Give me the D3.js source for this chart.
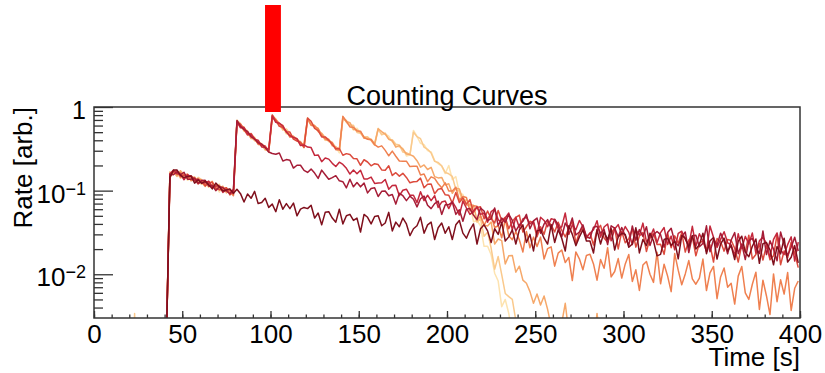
<!DOCTYPE html>
<html>
<head>
<meta charset="utf-8">
<script src="https://cdn.jsdelivr.net/npm/d3@7"></script>
<style>
  body { margin: 0; background: #fff; }
  svg { display: block; }
  text { font-family: "Liberation Sans", Arial, Helvetica, sans-serif; fill: #000; }
</style>
</head>
<body>
<svg id="chart" width="825" height="373"></svg>
<script>
// Histogram binning: 2 s bins, first bin centred at 21 s.
const binStart = 21;
const binStep = 2;

// Counting rate per bin; each row of ten values covers 20 s (21-39 s, 41-59 s, ...).
const rateSingle = [
  0,0,0,0,0,0,0,0,0,0,
  .0015,.144,.176,.177,.152,.143,.148,.150,.123,.135,
  .122,.130,.118,.105,.123,.111,.099,.102,.105,.093,
  .104,.092,.073,.091,.081,.098,.070,.072,.081,.063,
  .069,.056,.078,.060,.070,.061,.071,.050,.060,.063,
  .061,.067,.047,.054,.039,.055,.056,.047,.042,.060,
  .040,.050,.052,.044,.047,.032,.052,.048,.040,.049,
  .050,.038,.041,.055,.033,.042,.037,.047,.040,.029,
  .035,.038,.048,.031,.039,.042,.026,.036,.041,.031,
  .037,.026,.039,.044,.031,.027,.034,.040,.023,.035,
  .039,.033,.024,.035,.030,.042,.025,.028,.034,.023,
  .034,.039,.024,.030,.019,.033,.034,.027,.023,.039,
  .024,.034,.027,.019,.038,.030,.022,.028,.034,.025,
  .025,.018,.034,.023,.032,.026,.035,.0195,.028,.031,
  .030,.021,.023,.036,.018,.026,.022,.031,.025,.0166,
  .0173,.026,.027,.022,.025,.0153,.029,.027,.021,.029,
  .020,.0226,.031,.0176,.025,.0275,.0152,.023,.027,.019,
  .022,.015,.0248,.0285,.0184,.0162,.0216,.0264,.0135,.0232,
  .024,.0195,.013,.0215,.0175,.027,.014,.016,.022,.0137
];
const rate80 = [
  0,0,0,0,0,0,0,0,0,0,
  .0015,.157,.155,.168,.154,.166,.137,.137,.142,.122,
  .132,.133,.113,.116,.100,.111,.109,.099,.092,.104,
  .690,.590,.536,.510,.440,.415,.374,.362,.326,.290,
  .278,.272,.282,.226,.235,.231,.186,.201,.201,.175,
  .165,.181,.162,.140,.176,.155,.137,.143,.151,.131,
  .128,.108,.137,.111,.125,.111,.123,.094,.106,.108,
  .085,.098,.099,.087,.090,.069,.093,.087,.076,.086,
  .079,.064,.080,.086,.067,.061,.070,.075,.052,.068,
  .068,.073,.052,.059,.043,.060,.061,.051,.045,.062,
  .057,.044,.046,.062,.038,.047,.042,.052,.044,.033,
  .039,.043,.052,.035,.0435,.047,.031,.040,.045,.035,
  .0455,.039,.028,.041,.035,.047,.0295,.032,.039,.028,
  .027,.0366,.0374,.031,.0343,.0227,.038,.0356,.028,.0363,
  .0288,.022,.0378,.0255,.0342,.0284,.037,.0221,.0297,.0325,
  .0298,.021,.0315,.0355,.0247,.0219,.0281,.032,.0182,.0287,
  .0293,.0213,.0234,.038,.0186,.0261,.0223,.031,.025,.0176,
  .0257,.0315,.0176,.023,.015,.0252,.0268,.0209,.0177,.033,
  .0172,.0251,.020,.0145,.032,.0225,.0168,.021,.0277,.019
];
const rate100 = [
  0,0,0,0,0,0,0,0,0,0,
  .0015,.159,.175,.159,.158,.135,.155,.146,.132,.138,
  .124,.124,.130,.109,.114,.114,.095,.102,.103,.092,
  .665,.564,.568,.478,.466,.408,.401,.333,.329,.310,
  .779,.657,.640,.594,.502,.453,.433,.418,.346,.352,
  .332,.327,.264,.267,.222,.246,.238,.212,.194,.219,
  .206,.185,.158,.176,.159,.175,.138,.138,.145,.122,
  .123,.124,.136,.104,.115,.116,.087,.101,.104,.088,
  .088,.072,.097,.076,.088,.076,.087,.063,.073,.075,
  .061,.074,.063,.051,.075,.062,.052,.057,.064,.052,
  .054,.042,.056,.060,.045,.041,.047,.054,.034,.048,
  .036,.046,.048,.040,.043,.030,.048,.044,.037,.046,
  .045,.035,.037,.054,.030,.039,.034,.044,.037,.028,
  .031,.034,.0437,.0278,.0367,.0399,.0251,.0348,.0392,.0297,
  .0372,.0317,.0226,.0342,.0293,.0409,.0244,.0275,.0348,.0238,
  .0315,.0362,.0227,.0286,.0196,.0309,.0327,.0262,.0221,.0374,
  .0216,.0305,.0249,.0187,.0377,.0277,.021,.0261,.0322,.0238,
  .0224,.0167,.0306,.0203,.0284,.023,.0311,.0179,.0251,.0278,
  .0232,.0159,.0262,.0312,.0195,.0172,.0226,.028,.0144,.0243
];
const rate120 = [
  0,0,0,0,0,0,0,0,0,0,
  .0015,.149,.166,.174,.146,.154,.142,.151,.137,.120,
  .129,.114,.125,.125,.108,.102,.105,.108,.089,.098,
  .651,.622,.538,.463,.482,.417,.368,.351,.341,.296,
  .804,.696,.588,.573,.506,.502,.413,.392,.380,.330,
  .737,.676,.554,.522,.438,.439,.402,.356,.317,.319,
  .265,.277,.270,.242,.240,.201,.234,.220,.198,.210,
  .205,.177,.175,.198,.152,.164,.149,.161,.144,.124,
  .128,.129,.141,.108,.119,.120,.092,.104,.106,.089,
  .088,.071,.095,.072,.082,.069,.078,.055,.063,.064,
  .046,.057,.046,.041,.058,.044,.048,.035,.043,.048,
  .051,.032,.037,.043,.041,.028,.037,.030,.043,.039,
  .032,.0418,.0336,.028,.0355,.0429,.0235,.0314,.0363,.0269,
  .0313,.0224,.0342,.0384,.0271,.0242,.0307,.036,.0201,.0325,
  .0238,.0265,.0347,.0211,.0287,.0315,.0187,.0271,.0309,.0227,
  .0229,.0173,.0309,.0208,.0288,.0235,.0314,.0184,.0256,.0282,
  .0166,.0236,.0251,.020,.0225,.014,.0267,.0246,.0189,.0261,
  .0254,.0205,.014,.0226,.0185,.0293,.0152,.0172,.0232,.0148,
  .0222,.0149,.0166,.0298,.013,.019,.0157,.0242,.018,.012
];
const rate140 = [
  0,0,0,0,0,0,0,0,0,0,
  .0015,.141,.175,.156,.164,.150,.158,.131,.138,.137,
  .134,.119,.118,.129,.104,.110,.102,.108,.099,.087,
  .659,.602,.575,.472,.459,.426,.357,.353,.337,.293,
  .736,.701,.637,.553,.514,.436,.447,.410,.363,.357,
  .729,.609,.593,.551,.462,.415,.393,.376,.309,.306,
  .773,.675,.578,.573,.516,.513,.432,.412,.406,.354,
  .331,.343,.303,.261,.297,.258,.226,.224,.225,.194,
  .196,.196,.154,.158,.128,.146,.140,.121,.108,.124,
  .099,.099,.110,.077,.085,.083,.057,.066,.065,.050,
  .0385,.0468,.051,.0362,.038,.0273,.0458,.0289,.0259,.0325,
  .0258,.0185,.0325,.0207,.0278,.0215,.0278,.0152,.0203,.0213,
  .0125,.0179,.0195,.0138,.0159,.0084,.0185,.0153,.0113,.0168,
  .0174,.0133,.0085,.015,.0118,.0208,.0093,.0108,.0154,.009,
  .0133,.0172,.0082,.0113,.0064,.0129,.0142,.010,.008,.0184,
  .0077,.0132,.0095,.0062,.0177,.0112,.0075,.0101,.0146,.0088,
  .0076,.009,.0152,.0064,.0104,.0124,.0051,.0093,.0119,.007,
  .0078,.0044,.0095,.0124,.006,.005,.0076,.0106,.0038,.0085,
  .0055,.0033,.0101,.0047,.0086,.0058,.0105,.0037,.0068,.0083
];
const rate160 = [
  0,0,0,0,0,0,0,0,0,0,
  .0015,.163,.167,.148,.173,.155,.139,.142,.146,.129,
  .125,.112,.128,.111,.117,.107,.113,.094,.100,.100,
  .686,.634,.521,.492,.419,.418,.392,.346,.312,.319,
  .798,.673,.615,.605,.488,.476,.423,.419,.371,.326,
  .714,.602,.605,.508,.487,.428,.412,.343,.334,.310,
  .728,.673,.649,.540,.530,.499,.423,.423,.409,.361,
  .550,.509,.474,.414,.394,.331,.345,.313,.274,.270,
  .258,.228,.191,.203,.179,.190,.147,.142,.144,.117,
  .121,.093,.107,.105,.078,.067,.068,.067,.044,.050,
  .0386,.0377,.0422,.023,.0264,.0252,.0133,.0166,.0168,.0106,
  .0125,.0085,.0078,.0062,.0045,.0058,.0043,.0055,.0038,.0024,
  .0028,.0022,.0026,.0045,.002,.0016,.0013,.0011,.0009,.0008,
  .0008,.0014,.0034,.0015,.0009,.0006,.0004,0,0,0
];
const rate180 = [
  0,.0034,0,0,0,0,0,0,0,0,
  .0015,.168,.159,.163,.140,.156,.153,.138,.128,.144,
  .135,.124,.110,.119,.110,.119,.098,.098,.102,.089,
  .678,.571,.557,.519,.443,.395,.383,.365,.304,.306,
  .748,.715,.618,.529,.547,.478,.416,.402,.388,.341,
  .688,.650,.591,.514,.474,.399,.406,.369,.323,.311,
  .767,.654,.605,.605,.497,.486,.443,.440,.397,.349,
  .545,.466,.487,.409,.406,.358,.351,.289,.284,.269,
  .500,.442,.418,.331,.312,.282,.224,.217,.198,.165,
  .159,.148,.103,.099,.071,.078,.069,.053,.042,.046,
  .0284,.0319,.0206,.0115,.0163,.0099,.0059,.0054,.005,.0028,
  .0022,.0016,.001,0
];
const rate200 = [
  0,0,0,0,0,0,0,0,0,0,
  .0015,.156,.176,.153,.161,.160,.133,.143,.143,.126,
  .119,.126,.124,.113,.112,.096,.110,.105,.095,.100,
  .699,.605,.512,.502,.446,.438,.365,.343,.334,.287,
  .788,.729,.598,.562,.475,.479,.444,.395,.355,.367,
  .746,.625,.570,.562,.449,.435,.384,.377,.331,.283,
  .719,.694,.608,.529,.557,.488,.436,.422,.414,.366,
  .557,.473,.477,.448,.383,.345,.333,.320,.260,.266,
  .525,.444,.367,.354,.302,.291,.229,.210,.196,.160,
  .200,.136,.147,.094,.090,.069,.070,.0425,.0437,.038,
  .0216,.0216,.0171,.0103,.0083,.0041,.005,.0034,.0018,.0013
];

// Curves from the single injection (dark) to the latest injection (pale).
const curveRates  = [rateSingle, rate80, rate100, rate120, rate140, rate160, rate180, rate200];
const curveColors = ["#7f0f1c", "#a51c36", "#c4283c", "#dc4a3c", "#ef8050", "#f6a86a", "#fac98c", "#fde3b0"];

const xDomain = [0, 400];
const yDomain = [0.003, 1];
const xMajorTicks = d3.range(0, 401, 50);
const xMinorTicks = d3.range(0, 401, 10);
const yDecades = [1, 0.1, 0.01];
const yDecadeExponents = [0, -1, -2];
const markerSpan = [96.9, 105.9];

const titleText = "Counting Curves";
const xTitle = "Time [s]";
const yTitle = "Rate [arb.]";

// ---- layout ----
const frame = { left: 94, right: 800, top: 107, bottom: 318 };
const svg = d3.select("#chart");

const x = d3.scaleLinear().domain(xDomain).range([frame.left, frame.right]);
const y = d3.scaleLog().domain(yDomain).range([frame.bottom, frame.top]);

svg.append("defs").append("clipPath").attr("id", "plot-clip")
  .append("rect")
  .attr("x", frame.left).attr("y", frame.top)
  .attr("width", frame.right - frame.left).attr("height", frame.bottom - frame.top);

// ---- curves (palest first so darker curves sit on top) ----
const line = d3.line()
  .x((d, i) => x(binStart + i * binStep))
  .y(d => y(Math.max(d, 1e-4)));

const curves = svg.append("g").attr("clip-path", "url(#plot-clip)");
for (let k = curveRates.length - 1; k >= 0; k--) {
  curves.append("path")
    .datum(curveRates[k])
    .attr("fill", "none")
    .attr("stroke", curveColors[k])
    .attr("stroke-width", 1.5)
    .attr("stroke-linejoin", "round")
    .attr("d", line);
}

// ---- axes ----
const axisColor = "#333";
function styleAxis(g) {
  g.select(".domain").remove();
  g.selectAll(".tick line").attr("stroke", axisColor).attr("stroke-width", 1.3);
}

svg.append("g")
  .attr("transform", `translate(0,${frame.bottom})`)
  .call(d3.axisBottom(x).tickValues(xMinorTicks).tickSize(-3.5).tickFormat(""))
  .call(styleAxis);

svg.append("g")
  .attr("transform", `translate(0,${frame.bottom})`)
  .call(d3.axisBottom(x).tickValues(xMajorTicks).tickSize(-7).tickFormat(d3.format("d")))
  .call(styleAxis)
  .call(g => g.selectAll("text")
    .attr("dy", null).attr("y", 25)
    .attr("font-size", 26)
    .attr("font-family", "Liberation Sans, Arial, sans-serif")
    .attr("fill", "#000"));

const yMinor = [];
[-3, -2, -1].forEach(e => {
  for (let m = 2; m <= 9; m++) {
    const v = m * Math.pow(10, e);
    if (v > yDomain[0] && v < yDomain[1]) yMinor.push(v);
  }
});

svg.append("g")
  .attr("transform", `translate(${frame.left},0)`)
  .call(d3.axisLeft(y).tickValues(yMinor).tickSize(-9).tickFormat(""))
  .call(styleAxis);

svg.append("g")
  .attr("transform", `translate(${frame.left},0)`)
  .call(d3.axisLeft(y).tickValues(yDecades).tickSize(-19).tickFormat(""))
  .call(styleAxis);

// decade labels: 1, 10^-1, 10^-2
yDecades.forEach((v, i) => {
  const e = yDecadeExponents[i];
  const t = svg.append("text")
    .attr("x", frame.left - 8)
    .attr("text-anchor", "end");
  if (e === 0) {
    t.attr("y", y(v) + 12).attr("font-size", 25).text("1");
  } else {
    t.attr("y", y(v) + 12).attr("font-size", 26).text("10");
    t.append("tspan").attr("dy", -8).attr("font-size", 18).text("\u2212" + Math.abs(e));
  }
});

// frame
svg.append("rect")
  .attr("x", frame.left).attr("y", frame.top)
  .attr("width", frame.right - frame.left).attr("height", frame.bottom - frame.top)
  .attr("fill", "none").attr("stroke", axisColor).attr("stroke-width", 1.5);

// ---- titles ----
svg.append("text")
  .attr("x", 447).attr("y", 105)
  .attr("text-anchor", "middle")
  .attr("font-size", 27)
  .text(titleText);

svg.append("text")
  .attr("x", frame.right).attr("y", 366)
  .attr("text-anchor", "end")
  .attr("font-size", 26)
  .text(xTitle);

svg.append("text")
  .attr("transform", `translate(32,${frame.top}) rotate(-90)`)
  .attr("text-anchor", "end")
  .attr("font-size", 26)
  .text(yTitle);

// ---- marker bar ----
svg.append("rect")
  .attr("x", x(markerSpan[0]))
  .attr("y", 5)
  .attr("width", x(markerSpan[1]) - x(markerSpan[0]))
  .attr("height", frame.top)
  .attr("fill", "#ff0000");
</script>
</body>
</html>
